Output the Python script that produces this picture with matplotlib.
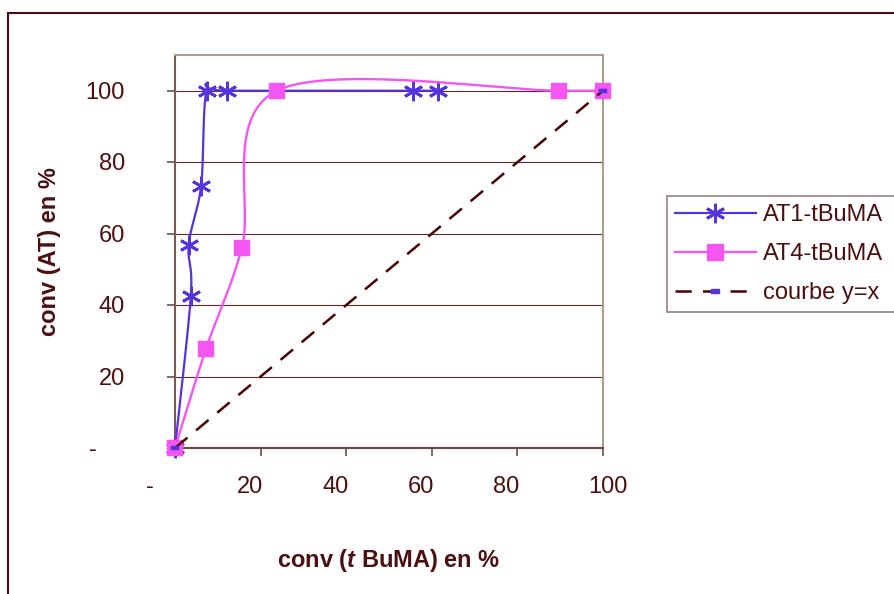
import numpy as np
import matplotlib
matplotlib.use("Agg")
import matplotlib.pyplot as plt
from matplotlib.path import Path
from matplotlib.patches import Rectangle
from matplotlib.transforms import ScaledTranslation
from matplotlib.lines import Line2D

# ---------------- data ----------------
at1_x = [0, 3.7, 3.2, 6.1, 7.4, 12.1, 55.7, 61.5]
at1_y = [0, 42.6, 56.9, 73.4, 100, 100, 100, 100]
at4_x = [0, 7.2, 15.6, 23.8, 89.7, 100]
at4_y = [0, 27.6, 55.9, 100, 100, 100]
ref_x = [0, 100]
ref_y = [0, 100]
series_names = ["AT1-tBuMA", "AT4-tBuMA", "courbe y=x"]
tick_values = [0, 20, 40, 60, 80, 100]
tick_labels = ["-", "20", "40", "60", "80", "100"]

# ---------------- style ----------------
W, H, DPI = 894, 594, 100
TXT = "#4d0f0f"
BLUE = "#5533DD"
PINK = "#F555F0"
DARK = "#4D0000"
plt.rcParams["font.family"] = ["Liberation Sans", "DejaVu Sans"]
plt.rcParams["mathtext.fontset"] = "custom"
plt.rcParams["mathtext.bfit"] = "Liberation Sans:italic:bold"
plt.rcParams["mathtext.rm"] = "Liberation Sans:bold"
FS = 17

fig = plt.figure(figsize=(W / DPI, H / DPI), dpi=DPI)
fig.patch.set_facecolor("white")

def px(x, y):
    return x / W, 1 - y / H

# axes placement (pixels: left 175, right 603, top 55, bottom 448)
l, t = px(175, 55)
r, b = px(603, 448)
ax = fig.add_axes([l, b, r - l, t - b])
ax.set_xlim(0, 100)
ax.set_ylim(0, 110)

# outer chart border
fig.patches.append(Rectangle((7.5 / W, -0.1), 1.2, 1.1 - 13 / H,
                             transform=fig.transFigure, fill=False,
                             edgecolor="#4d0a14", lw=1.5, zorder=0))

# gridlines / ticks
ax.set_yticks(tick_values)
ax.set_xticks(tick_values)
ax.yaxis.grid(True, color="#5c2a2a", lw=0.8)
ax.set_axisbelow(True)
ax.tick_params(axis="both", direction="out", length=6, width=1.3,
               color="#7a5a55", labelleft=False, labelbottom=False)

for side, c in [("left", "#7a5a55"), ("bottom", "#6e4646"),
                ("top", "#a89f8f"), ("right", "#a89f8f")]:
    ax.spines[side].set_color(c)
    ax.spines[side].set_linewidth(1.5)

# Excel-like smoothed curve (cubic Bezier in display space)
def smooth(xs, ys, n=40):
    pts = ax.transData.transform(np.column_stack([xs, ys]))
    out = []
    for i in range(len(pts) - 1):
        p0 = pts[i - 1] if i > 0 else pts[i]
        p1, p2 = pts[i], pts[i + 1]
        p3 = pts[i + 2] if i + 2 < len(pts) else pts[i + 1]
        c1 = p1 + (p2 - p0) / 6.0
        c2 = p2 - (p3 - p1) / 6.0
        tt = np.linspace(0, 1, n)[:, None]
        seg = ((1 - tt) ** 3) * p1 + 3 * ((1 - tt) ** 2) * tt * c1 \
            + 3 * (1 - tt) * tt ** 2 * c2 + tt ** 3 * p2
        out.append(seg if i == 0 else seg[1:])
    res = ax.transData.inverted().transform(np.vstack(out))
    return res[:, 0], res[:, 1]

star = (6, 2, 0)
rect_marker = Path([(-1, -0.45), (1, -0.45), (1, 0.45), (-1, 0.45), (-1, -0.45)],
                   [Path.MOVETO, Path.LINETO, Path.LINETO, Path.LINETO, Path.CLOSEPOLY])
STAR_MS, STAR_MEW = 14, 2.0
SQ_MS = 11
DASH = (6.5, 4.5)
DLW = 1.8

sx, sy = smooth(at1_x, at1_y)
ax.plot(sx, sy, color=BLUE, lw=1.6, zorder=3, clip_on=False)
ax.plot(at1_x, at1_y, ls="none", marker=star, ms=STAR_MS, mew=STAR_MEW, color=BLUE,
        zorder=3.1, clip_on=False)

sx, sy = smooth(at4_x, at4_y)
ax.plot(sx, sy, color=PINK, lw=1.7, zorder=4, clip_on=False)
ax.plot(at4_x, at4_y, ls="none", marker="s", ms=SQ_MS, mfc=PINK, mec=PINK,
        mew=0.3, zorder=4.1, clip_on=False)

ax.plot(ref_x, ref_y, color=DARK, lw=DLW, dashes=DASH, zorder=5, clip_on=False)
ax.plot(ref_x, ref_y, ls="none", marker=rect_marker, ms=5.5, mfc=BLUE, mec=BLUE,
        mew=0.3, zorder=5.1, clip_on=False)

# legend
h1 = Line2D([], [], color=BLUE, lw=1.6, marker=star, ms=STAR_MS, mew=STAR_MEW)
h2 = Line2D([], [], color=PINK, lw=1.7, marker="s", ms=SQ_MS, mfc=PINK, mec=PINK)
h3 = Line2D([], [], color=DARK, lw=DLW, dashes=DASH, marker=rect_marker, ms=5.5,
            mfc=BLUE, mec=BLUE)
lx, ly = px(667, 196)
leg = fig.legend([h1, h2, h3], series_names, loc="upper left",
                 bbox_to_anchor=(lx, ly - 0.5, 0.3, 0.5), bbox_transform=fig.transFigure,
                 mode="expand",
                 fontsize=FS, labelcolor=TXT, frameon=True, fancybox=False,
                 edgecolor="#8b6b6b", handlelength=3.43, handletextpad=0.3,
                 borderpad=0.33, labelspacing=0.72, numpoints=1, borderaxespad=0)
leg.get_frame().set_linewidth(1.3)

# tick labels (Excel accounting-style placement)
x_label_dx = [-25, -11, -10.7, -11, -11, 4.7]
for v, s, dx in zip(tick_values, tick_labels, x_label_dx):
    tr = ax.get_xaxis_transform() + ScaledTranslation(dx / DPI, -45 / DPI, fig.dpi_scale_trans)
    ax.text(v, 0, s, transform=tr, ha="center", va="baseline", fontsize=FS, color=TXT,
            clip_on=False)
y_label_dx = [-78, -50, -50, -50, -50, -50]
for v, s, dx in zip(tick_values, tick_labels, y_label_dx):
    tr = ax.get_yaxis_transform() + ScaledTranslation(dx / DPI, -8 / DPI, fig.dpi_scale_trans)
    ax.text(0, v, s, transform=tr, ha="right", va="baseline", fontsize=FS, color=TXT,
            clip_on=False)

# axis titles
fig.text(*px(389, 560), r"conv ($\mathbfit{t}$ BuMA) en %", ha="center", va="center",
         fontsize=FS, fontweight="bold", color=TXT)
fig.text(*px(50, 252), "conv (AT) en %", ha="center", va="center", rotation=90,
         fontsize=FS, fontweight="bold", color=TXT)

fig.savefig("out.png", dpi=DPI)
